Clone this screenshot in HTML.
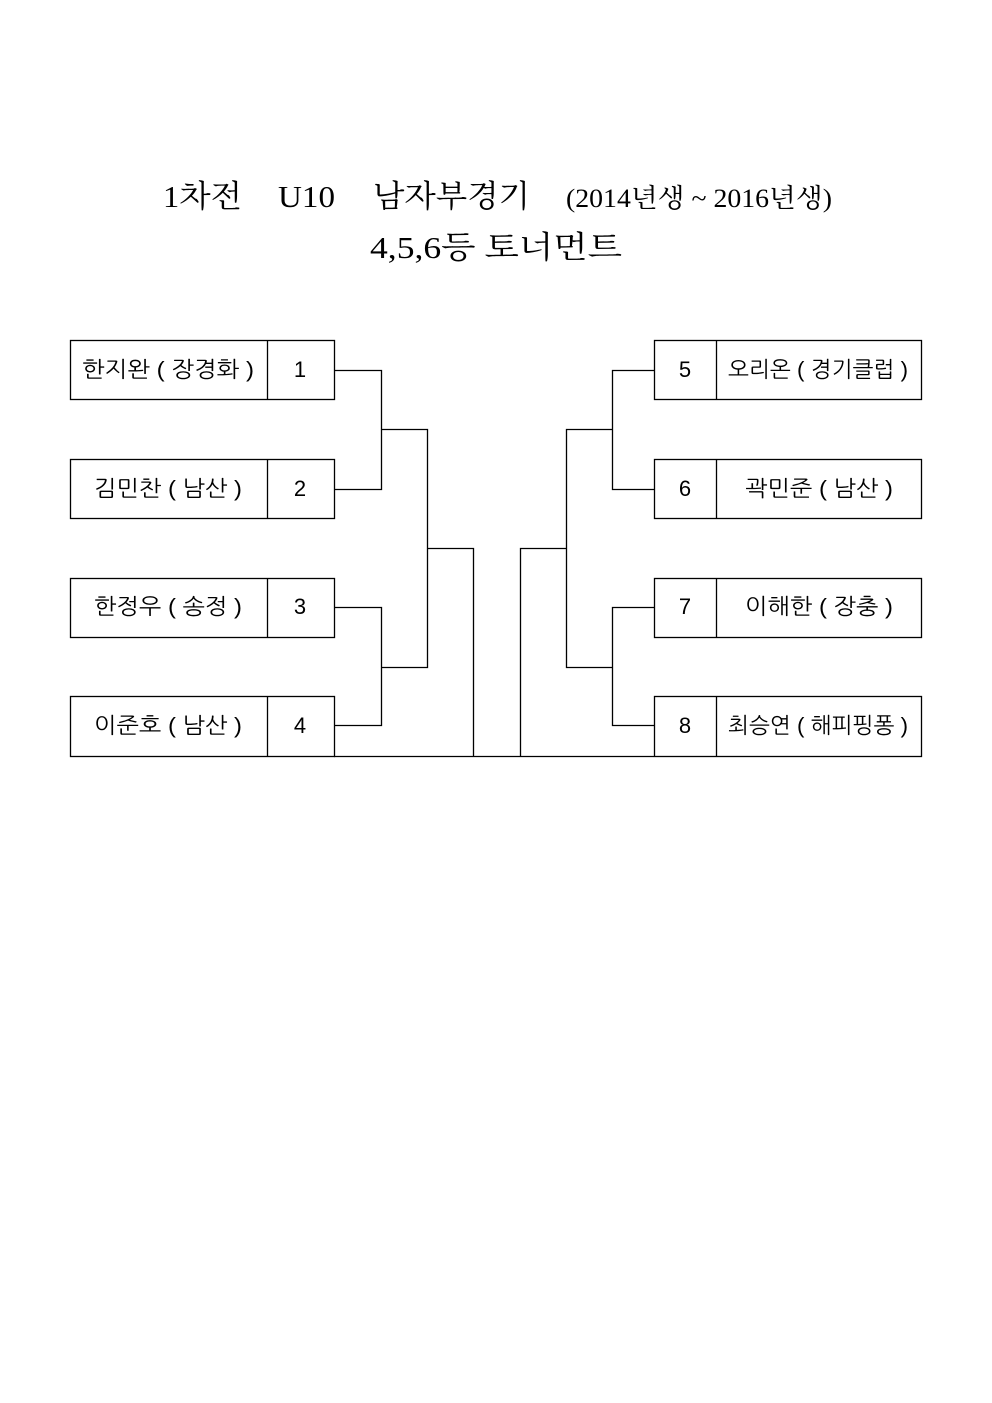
<!DOCTYPE html>
<html><head><meta charset="utf-8"><style>
html,body{margin:0;padding:0;background:#fff;width:992px;height:1403px;overflow:hidden}
</style></head><body>
<svg width="992" height="1403" xmlns="http://www.w3.org/2000/svg">
<g font-family="'Liberation Serif','Noto Serif CJK SC',serif" fill="#000">
<text x="163" y="207" font-size="31" textLength="79" lengthAdjust="spacingAndGlyphs">1차전</text>
<text x="278" y="207" font-size="31" textLength="57" lengthAdjust="spacingAndGlyphs">U10</text>
<text x="373" y="207" font-size="31" textLength="157" lengthAdjust="spacingAndGlyphs">남자부경기</text>
<text x="566" y="207" font-size="26" textLength="266" lengthAdjust="spacingAndGlyphs">(2014년생 ~ 2016년생)</text>
<text x="370" y="258" font-size="31" textLength="252" lengthAdjust="spacingAndGlyphs">4,5,6등 토너먼트</text>
</g>
<g fill="none" stroke="#000" stroke-width="1.3">
<rect x="70.5" y="340.5" width="264" height="59"/><line x1="267.5" y1="340" x2="267.5" y2="400"/>
<rect x="70.5" y="459.5" width="264" height="59"/><line x1="267.5" y1="459" x2="267.5" y2="519"/>
<rect x="70.5" y="578.5" width="264" height="59"/><line x1="267.5" y1="578" x2="267.5" y2="638"/>
<rect x="70.5" y="696.5" width="264" height="60"/><line x1="267.5" y1="696" x2="267.5" y2="757"/>
<rect x="654.5" y="340.5" width="267" height="59"/><line x1="716.5" y1="340" x2="716.5" y2="400"/>
<rect x="654.5" y="459.5" width="267" height="59"/><line x1="716.5" y1="459" x2="716.5" y2="519"/>
<rect x="654.5" y="578.5" width="267" height="59"/><line x1="716.5" y1="578" x2="716.5" y2="638"/>
<rect x="654.5" y="696.5" width="267" height="60"/><line x1="716.5" y1="696" x2="716.5" y2="757"/>
<polyline points="334,370.5 381.5,370.5 381.5,489.5 334,489.5"/>
<polyline points="381.5,429.5 427.5,429.5 427.5,667.5 381.5,667.5"/>
<polyline points="334,607.5 381.5,607.5 381.5,725.5 334,725.5"/>
<polyline points="427.5,548.5 473.5,548.5 473.5,756.5"/>
<polyline points="654,370.5 612.5,370.5 612.5,489.5 654,489.5"/>
<polyline points="612.5,429.5 566.5,429.5 566.5,667.5 612.5,667.5"/>
<polyline points="654,607.5 612.5,607.5 612.5,725.5 654,725.5"/>
<polyline points="566.5,548.5 520.5,548.5 520.5,756.5"/>
<line x1="334" y1="756.5" x2="654" y2="756.5"/>
</g>
<g font-family="'Liberation Sans','NanumGothic','Noto Sans CJK KR',sans-serif" font-size="22" fill="#000">
<text x="82" y="377" textLength="172" lengthAdjust="spacingAndGlyphs">한지완 ( 장경화 )</text>
<text x="94" y="496" textLength="148" lengthAdjust="spacingAndGlyphs">김민찬 ( 남산 )</text>
<text x="94" y="614" textLength="148" lengthAdjust="spacingAndGlyphs">한정우 ( 송정 )</text>
<text x="94" y="733" textLength="148" lengthAdjust="spacingAndGlyphs">이준호 ( 남산 )</text>
<text x="728" y="377" textLength="180" lengthAdjust="spacingAndGlyphs">오리온 ( 경기클럽 )</text>
<text x="745" y="496" textLength="148" lengthAdjust="spacingAndGlyphs">곽민준 ( 남산 )</text>
<text x="745" y="614" textLength="148" lengthAdjust="spacingAndGlyphs">이해한 ( 장충 )</text>
<text x="728" y="733" textLength="180" lengthAdjust="spacingAndGlyphs">최승연 ( 해피핑퐁 )</text>
</g>
<g font-family="'Liberation Sans',sans-serif" font-size="22" fill="#000" text-anchor="middle">
<text x="300" y="377">1</text><text x="300" y="496">2</text><text x="300" y="614">3</text><text x="300" y="733">4</text>
<text x="685" y="377">5</text><text x="685" y="496">6</text><text x="685" y="614">7</text><text x="685" y="733">8</text>
</g>
</svg>
</body></html>
